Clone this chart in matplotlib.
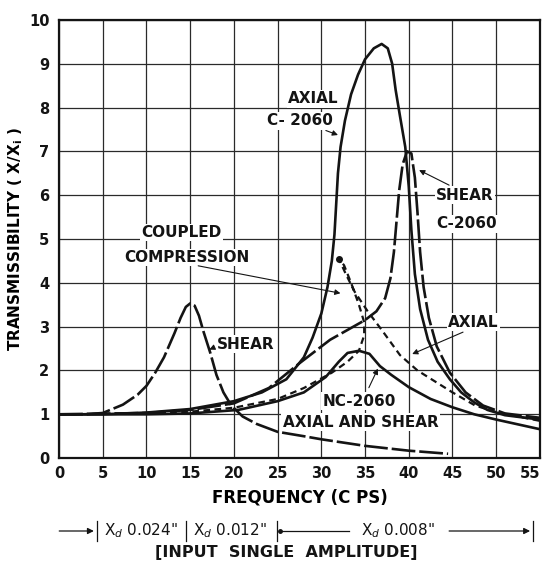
import matplotlib.pyplot as plt
from matplotlib.transforms import blended_transform_factory

# ---- data ----
freq_ticks = list(range(0, 60, 5))
trans_ticks = list(range(0, 11))

# coupled compression, shear (peak near 15 cps)
cc_shear_x = [0, 3, 5, 7.3, 9, 10, 11, 12, 13.2, 13.9, 14.5, 15, 15.5, 16, 16.5, 17.3, 18,
              18.8, 19.7, 21, 22.6, 25, 28, 30, 35, 40, 44.5]
cc_shear_y = [1.0, 1.0, 1.03, 1.22, 1.45, 1.65, 1.95, 2.3, 2.85, 3.2, 3.45, 3.53, 3.48, 3.25,
              2.9, 2.4, 1.9, 1.5, 1.2, 0.95, 0.78, 0.6, 0.5, 0.43, 0.28, 0.17, 0.1]

# coupled compression, axial (leaning peak near 32 cps)
cc_axial_x = [0, 10, 15, 20, 25, 28, 31.2, 33, 34.3, 34.9, 34.9, 34.3, 33.4, 32.6, 32.0,
              32.8, 33.8, 35.3, 37, 39, 41, 43, 45, 47.6, 50, 55]
cc_axial_y = [1.0, 1.02, 1.06, 1.15, 1.35, 1.6, 1.95, 2.2, 2.45, 2.8, 3.1, 3.5, 4.0, 4.4, 4.55,
              4.2, 3.8, 3.35, 2.9, 2.35, 2.0, 1.75, 1.5, 1.2, 1.05, 0.85]

# C-2060 axial
c_axial_x = [0, 5, 10, 15, 20, 23.2, 26, 28, 29, 30, 30.7, 31.2, 31.5, 31.7, 31.9, 32.2, 32.7,
             33.4, 34.2, 35, 36, 36.9, 37.6, 38.1, 38.5, 39, 39.6, 40, 40.3, 40.7, 41.3, 42.2,
             43.3, 44.7, 46, 47.5, 49, 51, 55]
c_axial_y = [1.0, 1.0, 1.04, 1.12, 1.3, 1.5, 1.8, 2.3, 2.75, 3.3, 3.9, 4.5, 5.1, 5.8, 6.5, 7.1,
             7.7, 8.3, 8.75, 9.1, 9.35, 9.45, 9.35, 9.0, 8.4, 7.8, 7.1, 6.2, 5.2, 4.2, 3.4, 2.7,
             2.2, 1.8, 1.5, 1.27, 1.1, 0.98, 0.88]

# C-2060 shear
c_shear_x = [0, 10, 15, 20, 24, 27.4, 31, 35, 36.3, 37.3, 37.9, 38.3, 38.6, 38.9, 39.3, 39.8,
             40.3, 40.7, 41.0, 41.3, 41.7, 42.3, 43.2, 44.7, 46.5, 48.5, 51, 55]
c_shear_y = [1.0, 1.03, 1.1, 1.25, 1.6, 2.15, 2.7, 3.15, 3.35, 3.65, 4.1, 4.7, 5.4, 6.1, 6.7,
             7.0, 6.95, 6.4, 5.6, 4.7, 3.9, 3.2, 2.55, 1.95, 1.5, 1.2, 1.02, 0.92]

# NC-2060 axial and shear
nc_x = [0, 10, 15, 20.5, 25, 28, 30.5, 32, 33, 34.3, 35.5, 36.7, 38, 40, 42.5, 45, 47.5, 50, 55]
nc_y = [1.0, 1.0, 1.02, 1.1, 1.3, 1.5, 1.85, 2.2, 2.4, 2.45, 2.38, 2.1, 1.9, 1.62, 1.35, 1.16,
        1.0, 0.88, 0.66]

plt.rcParams["font.family"] = ["DejaVu Sans"]
ink = "#141414"

fig = plt.figure(figsize=(5.47, 5.67), dpi=100)
ax = fig.add_axes([0.108, 0.192, 0.879, 0.773])

ax.plot(c_axial_x, c_axial_y, color=ink, lw=1.9, solid_capstyle="round")
ax.plot(nc_x, nc_y, color=ink, lw=1.9)
ax.plot(c_shear_x, c_shear_y, color=ink, lw=1.9, dashes=(9, 1.5))
ax.plot(cc_shear_x, cc_shear_y, color=ink, lw=1.9, dashes=(9, 1.5))
ax.plot(cc_axial_x, cc_axial_y, color=ink, lw=1.6, dashes=(3, 2))
ax.plot([cc_axial_x[14]], [cc_axial_y[14]], "o", color=ink, ms=4)

ax.set_xlim(0, 55)
ax.set_ylim(0, 10)
ax.set_xticks(freq_ticks)
ax.set_yticks(trans_ticks)
ax.grid(True, color="#2a2a2a", lw=0.9)
ax.set_axisbelow(True)
for s in ax.spines.values():
    s.set_linewidth(1.6)
    s.set_color(ink)
ax.tick_params(length=0, labelsize=10.5, colors=ink)
ax.tick_params(axis="x", pad=6)
ax.tick_params(axis="y", pad=7)
for t in ax.get_xticklabels() + ax.get_yticklabels():
    t.set_fontweight("bold")
ax.get_xticklabels()[-1].set_ha("right")
ax.set_ylabel("TRANSMISSIBILITY ( X/X$_\\mathbf{i}$ )", fontsize=11, fontweight="bold",
              labelpad=3)
ax.set_xlabel("FREQUENCY (C PS)", fontsize=12, fontweight="bold", labelpad=5)

lab = dict(fontsize=11, fontweight="bold", color=ink, ha="center", va="center",
           bbox=dict(facecolor="white", edgecolor="none", pad=1))
arrow = dict(arrowstyle="-|>", color=ink, lw=0.8, mutation_scale=8)

ax.text(29.1, 8.2, "AXIAL", **lab)
ax.annotate("C- 2060", xy=(32.2, 7.35), xytext=(27.5, 7.7), arrowprops=arrow, **lab)
ax.text(46.4, 6.0, "SHEAR", **lab)
ax.annotate("", xy=(40.9, 6.6), xytext=(44.9, 6.2), arrowprops=arrow)
ax.text(46.6, 5.35, "C-2060", **lab)
ax.text(14.0, 5.15, "COUPLED", **lab)
ax.text(14.6, 4.58, "COMPRESSION", **lab)
ax.annotate("", xy=(32.5, 3.75), xytext=(15.6, 4.4), arrowprops=arrow)
ax.text(21.3, 2.6, "SHEAR", **lab)
ax.annotate("", xy=(16.9, 2.45), xytext=(18.0, 2.55), arrowprops=arrow)
ax.text(47.4, 3.1, "AXIAL", **lab)
ax.annotate("", xy=(40.1, 2.35), xytext=(46.5, 2.9), arrowprops=arrow)
ax.text(34.3, 1.3, "NC-2060", **lab)
ax.annotate("", xy=(36.6, 2.1), xytext=(35.3, 1.55), arrowprops=arrow)
ax.text(34.5, 0.82, "AXIAL AND SHEAR", **lab)

# input amplitude bar below the axis
tr = blended_transform_factory(ax.transData, fig.transFigure)
row = 1 - 531 / 567
ax.annotate("", xy=(4.3, row), xytext=(-0.3, row), xycoords=tr, textcoords=tr,
            arrowprops=dict(arrowstyle="-|>", color=ink, lw=0.9, mutation_scale=9),
            annotation_clip=False)
for xb in [4.3, 14.5, 24.9, 54.2]:
    ax.plot([xb, xb], [row - 0.018, row + 0.018], color=ink, lw=0.9, transform=tr,
            clip_on=False)
ax.plot([25.3], [row], "o", color=ink, ms=2.5, transform=tr, clip_on=False)
ax.plot([25.3, 33.2], [row, row], color=ink, lw=0.9, transform=tr, clip_on=False)
ax.annotate("", xy=(54.2, row), xytext=(44.3, row), xycoords=tr, textcoords=tr,
            arrowprops=dict(arrowstyle="-|>", color=ink, lw=0.9, mutation_scale=9),
            annotation_clip=False)
row_txt = dict(fontsize=11, color=ink, ha="center", va="center", transform=tr)
ax.text(9.4, row, "X$_d$ 0.024\"", **row_txt)
ax.text(19.6, row, "X$_d$ 0.012\"", **row_txt)
ax.text(38.8, row, "X$_d$ 0.008\"", **row_txt)
ax.text(26.0, 1 - 553 / 567, "[INPUT  SINGLE  AMPLITUDE]", fontweight="bold",
        **dict(row_txt, fontsize=11.5))

fig.savefig("out.png", dpi=100)
